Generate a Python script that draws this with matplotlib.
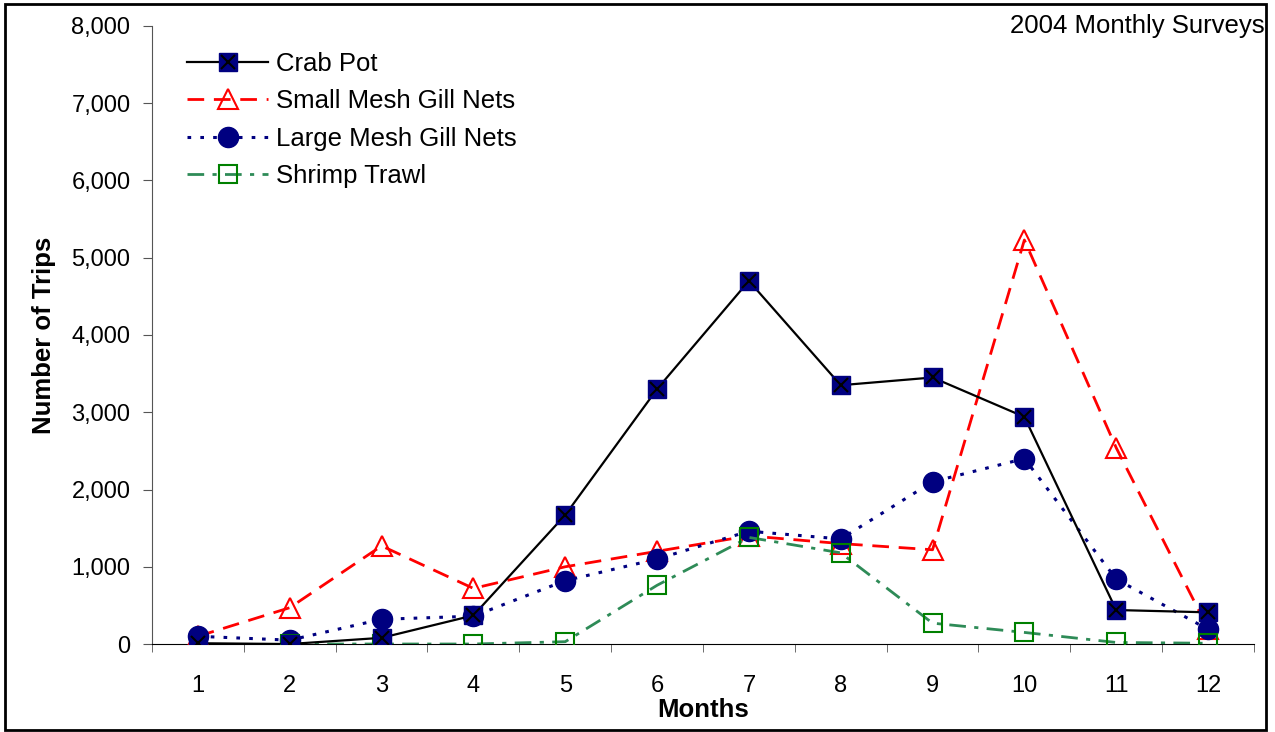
import numpy as np
import matplotlib.pyplot as plt
from matplotlib.patches import Rectangle
from matplotlib.lines import Line2D
from matplotlib.legend_handler import HandlerTuple

plt.rcParams["font.family"] = ["Liberation Sans", "DejaVu Sans"]

months = [1, 2, 3, 4, 5, 6, 7, 8, 9, 10, 11, 12]
crab_pot = [10, 0, 80, 370, 1670, 3300, 4700, 3350, 3450, 2940, 440, 410]
small_mesh = [100, 470, 1270, 720, 1000, 1200, 1400, 1300, 1220, 5230, 2540, 200]
large_mesh = [100, 50, 320, 360, 820, 1100, 1460, 1360, 2100, 2400, 840, 190]
shrimp_trawl = [np.nan, 0, 0, 0, 30, 760, 1380, 1180, 270, 150, 20, 10]

fig = plt.figure(figsize=(12.75, 7.32), dpi=100)
ax = fig.add_axes([0.1192, 0.1202, 0.8643, 0.8443])

navy = "#000080"
ax.plot(months, crab_pot, color="black", lw=1.6, marker="s", ms=13,
        mfc=navy, mec=navy, zorder=4)
# black x drawn over the crab pot squares
ax.plot(months, crab_pot, ls="none", marker="x", ms=10, mew=1.5, color="black", zorder=5)
ax.plot(months, small_mesh, color="red", lw=2, ls=(0, (6, 3.5)), marker="^", ms=15,
        mfc="none", mec="red", mew=1.5, zorder=3)
ax.plot(months, large_mesh, color=navy, lw=2.2, ls=(0, (1.2, 3)), marker="o", ms=14.5,
        mfc=navy, mec=navy, zorder=3)
ax.plot(months, shrimp_trawl, color="#2e8b57", lw=2, ls=(0, (6, 3, 1.5, 3)), marker="s", ms=13,
        mfc="none", mec="green", mew=1.5, zorder=3)

ax.set_xlim(0.5, 12.5)
ax.set_ylim(0, 8000)
ax.set_yticks(np.arange(0, 8001, 1000))
ax.set_yticklabels([f"{v:,}" for v in range(0, 8001, 1000)], fontsize=17)
ax.set_xticks(months)
ax.set_xticklabels([str(m) for m in months], fontsize=17)
ax.set_xticks(np.arange(0.5, 12.6, 1), minor=True)
ax.tick_params(axis="x", which="major", length=0, pad=22)
ax.tick_params(axis="x", which="minor", length=6, direction="out", color="#555555")
ax.tick_params(axis="y", length=6.5, direction="out", color="#555555", pad=9)
for s in ["top", "right"]:
    ax.spines[s].set_visible(False)
ax.spines["left"].set_color("#555555")
ax.spines["bottom"].set_color("black")

ax.set_xlabel("Months", fontsize=18.5, fontweight="bold", labelpad=1)
ax.set_ylabel("Number of Trips", fontsize=18.5, fontweight="bold", labelpad=11)

labels = ["Crab Pot", "Small Mesh Gill Nets", "Large Mesh Gill Nets", "Shrimp Trawl"]
handles = [
    (Line2D([], [], color="black", lw=1.6, marker="s", ms=13, mfc=navy, mec=navy),
     Line2D([], [], ls="none", marker="x", ms=10, mew=1.5, color="black")),
    Line2D([], [], color="red", lw=2, ls=(0, (6, 3.5)), marker="^", ms=15, mfc="none", mec="red", mew=1.5),
    Line2D([], [], color=navy, lw=2.2, ls=(0, (1.2, 3)), marker="o", ms=14.5, mfc=navy, mec=navy),
    Line2D([], [], color="#2e8b57", lw=2, ls=(0, (6, 3, 1.5, 3)), marker="s", ms=13,
           mfc="none", mec="green", mew=1.5),
]
ax.legend(handles, labels, loc="upper left", bbox_to_anchor=(0.032, 0.958), frameon=False,
          fontsize=18.5, handlelength=3.15, labelspacing=0.52, handletextpad=0.3, borderpad=0,
          borderaxespad=0, handler_map={tuple: HandlerTuple(ndivide=1)})

fig.text(0.992, 0.965, "2004 Monthly Surveys", ha="right", va="center", fontsize=18.5)

fig.patches.append(Rectangle((0.0039, 0.0027), 0.989, 0.992, transform=fig.transFigure,
                             fill=False, ec="black", lw=2))

fig.savefig("out.png", dpi=100)
